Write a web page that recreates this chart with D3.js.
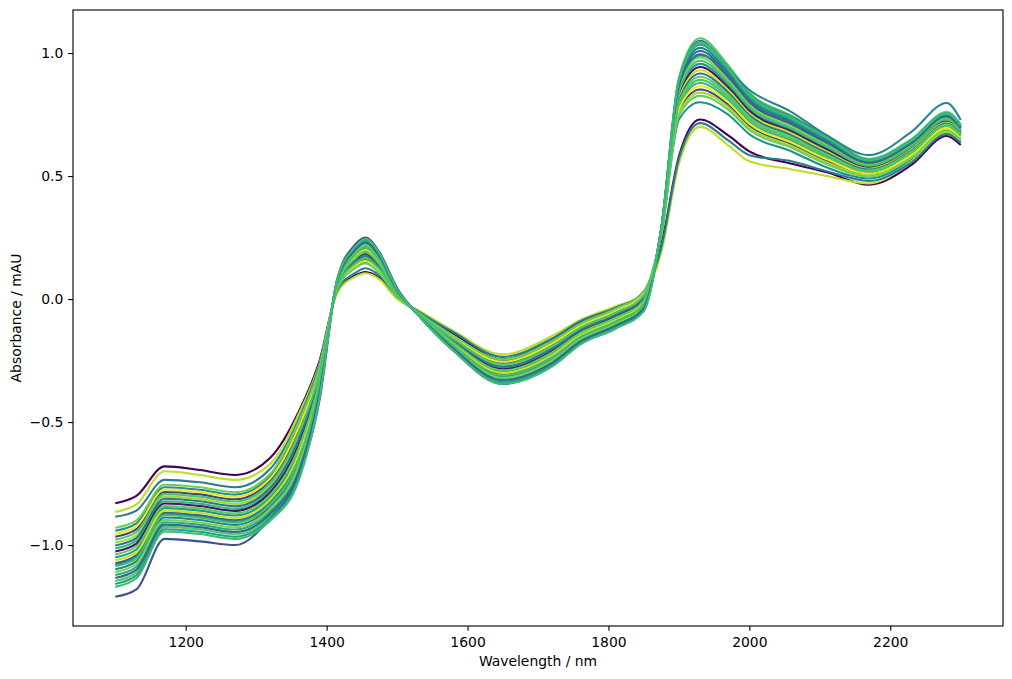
<!DOCTYPE html>
<html>
<head>
<meta charset="utf-8">
<script src="https://cdn.jsdelivr.net/npm/d3@7"></script>
<style>
  body { margin: 0; background: #fff; }
  text { font-family: "DejaVu Sans", sans-serif; fill: #000; }
</style>
</head>
<body>
<div id="graphic"></div>
<script>
var width = 1012;
var height = 679;
var margin = {left: 73, right: 9, top: 10, bottom: 53};
var fontSize = 13.9;
var tickLength = 4.86;
var tickPad = 4.86;

var wavelengths = [1100, 1130, 1170, 1220, 1270, 1320, 1360, 1390, 1415, 1440,
  1455, 1475, 1500, 1530, 1580, 1650, 1720, 1760, 1810, 1850,
  1875, 1900, 1930, 1970, 2000, 2060, 2110, 2170, 2230, 2280, 2300];

// colour value of each sample (viridis 0..1), same order as spectra
var sampleColors = [0.0, 0.66, 0.50, 0.45, 0.90, 0.20, 0.55, 0.74, 0.86, 0.25, 0.05, 0.30, 0.42,
  0.62, 0.98, 0.58, 0.47, 0.92, 0.40, 0.80, 0.78, 0.75, 0.70, 0.35, 0.72, 0.68];

var spectra = [
  [-0.830,-0.800,-0.680,-0.695,-0.715,-0.645,-0.460,-0.250,0.030,0.095,0.110,0.085,0.005,-0.050,-0.140,-0.245,-0.165,-0.095,-0.040,0.030,0.220,0.580,0.730,0.665,0.600,0.550,0.515,0.465,0.545,0.663,0.626],
  [-1.014,-0.982,-0.822,-0.832,-0.852,-0.777,-0.584,-0.319,0.054,0.155,0.180,0.133,0.021,-0.059,-0.171,-0.280,-0.207,-0.130,-0.068,0.002,0.269,0.781,0.878,0.810,0.721,0.644,0.574,0.514,0.591,0.701,0.661],
  [-0.942,-0.912,-0.765,-0.775,-0.795,-0.720,-0.512,-0.278,0.042,0.129,0.150,0.109,0.012,-0.056,-0.153,-0.250,-0.175,-0.104,-0.044,0.026,0.260,0.730,0.800,0.750,0.670,0.600,0.535,0.490,0.565,0.675,0.640],
  [-1.098,-1.065,-0.888,-0.898,-0.918,-0.843,-0.668,-0.363,0.068,0.185,0.215,0.161,0.031,-0.062,-0.192,-0.315,-0.244,-0.160,-0.096,-0.026,0.286,0.875,1.021,0.920,0.815,0.723,0.646,0.558,0.637,0.747,0.700],
  [-0.865,-0.835,-0.700,-0.715,-0.735,-0.670,-0.470,-0.260,0.025,0.090,0.105,0.080,0.000,-0.045,-0.130,-0.225,-0.150,-0.085,-0.030,0.020,0.190,0.550,0.700,0.625,0.560,0.527,0.500,0.470,0.560,0.680,0.645],
  [-0.966,-0.935,-0.784,-0.794,-0.814,-0.739,-0.536,-0.294,0.046,0.138,0.160,0.117,0.015,-0.057,-0.159,-0.260,-0.186,-0.113,-0.052,0.018,0.266,0.764,0.852,0.790,0.704,0.629,0.561,0.506,0.582,0.692,0.654],
  [-1.050,-1.018,-0.850,-0.860,-0.880,-0.805,-0.620,-0.338,0.060,0.168,0.195,0.145,0.025,-0.060,-0.180,-0.295,-0.223,-0.143,-0.080,-0.010,0.278,0.832,0.956,0.870,0.772,0.687,0.613,0.538,0.616,0.726,0.682],
  [-1.146,-1.112,-0.926,-0.936,-0.956,-0.881,-0.716,-0.388,0.076,0.202,0.235,0.177,0.037,-0.064,-0.204,-0.335,-0.265,-0.177,-0.112,-0.042,0.290,0.900,1.060,0.950,0.840,0.745,0.665,0.570,0.650,0.760,0.710],
  [-0.990,-0.959,-0.803,-0.813,-0.833,-0.758,-0.560,-0.306,0.050,0.146,0.170,0.125,0.018,-0.058,-0.165,-0.270,-0.196,-0.121,-0.060,0.010,0.265,0.756,0.839,0.780,0.696,0.622,0.555,0.502,0.578,0.688,0.651],
  [-1.210,-1.180,-0.975,-0.985,-1.000,-0.890,-0.720,-0.410,0.080,0.220,0.250,0.190,0.045,-0.065,-0.210,-0.345,-0.270,-0.180,-0.120,-0.040,0.290,0.880,1.050,0.930,0.830,0.740,0.660,0.565,0.640,0.740,0.700],
  [-1.026,-0.994,-0.831,-0.841,-0.861,-0.786,-0.596,-0.325,0.056,0.159,0.185,0.137,0.022,-0.059,-0.174,-0.285,-0.212,-0.134,-0.072,-0.002,0.277,0.824,0.943,0.860,0.764,0.680,0.607,0.534,0.612,0.722,0.679],
  [-1.074,-1.041,-0.869,-0.879,-0.899,-0.824,-0.644,-0.350,0.064,0.176,0.205,0.153,0.028,-0.061,-0.186,-0.305,-0.233,-0.151,-0.088,-0.018,0.283,0.858,0.995,0.900,0.798,0.709,0.633,0.550,0.629,0.739,0.693],
  [-0.885,-0.860,-0.735,-0.745,-0.765,-0.690,-0.490,-0.265,0.035,0.105,0.125,0.095,0.010,-0.050,-0.135,-0.235,-0.160,-0.090,-0.035,0.025,0.210,0.570,0.715,0.645,0.585,0.560,0.520,0.480,0.555,0.670,0.635],
  [-1.122,-1.088,-0.907,-0.917,-0.937,-0.862,-0.692,-0.375,0.072,0.193,0.225,0.169,0.034,-0.063,-0.198,-0.325,-0.254,-0.168,-0.104,-0.034,0.289,0.892,1.047,0.940,0.832,0.738,0.659,0.566,0.646,0.756,0.707],
  [-0.954,-0.924,-0.774,-0.784,-0.804,-0.729,-0.524,-0.288,0.044,0.134,0.155,0.113,0.013,-0.056,-0.156,-0.255,-0.181,-0.109,-0.048,0.022,0.268,0.773,0.865,0.800,0.713,0.636,0.568,0.510,0.586,0.696,0.658],
  [-1.158,-1.123,-0.936,-0.946,-0.966,-0.891,-0.728,-0.394,0.078,0.206,0.240,0.181,0.039,-0.065,-0.207,-0.340,-0.270,-0.181,-0.116,-0.046,0.287,0.883,1.034,0.930,0.823,0.731,0.652,0.562,0.642,0.752,0.703],
  [-1.080,-1.047,-0.873,-0.884,-0.903,-0.829,-0.650,-0.353,0.065,0.178,0.207,0.155,0.029,-0.061,-0.187,-0.307,-0.235,-0.153,-0.090,-0.020,0.280,0.850,0.990,0.930,0.850,0.760,0.665,0.585,0.680,0.797,0.728],
  [-1.062,-1.029,-0.860,-0.870,-0.890,-0.815,-0.632,-0.344,0.062,0.172,0.200,0.149,0.027,-0.061,-0.183,-0.300,-0.228,-0.147,-0.084,-0.014,0.275,0.815,0.930,0.850,0.755,0.673,0.600,0.530,0.608,0.718,0.675],
  [-1.002,-0.971,-0.812,-0.822,-0.842,-0.767,-0.572,-0.313,0.052,0.151,0.175,0.129,0.019,-0.058,-0.168,-0.275,-0.202,-0.126,-0.064,0.006,0.274,0.807,0.917,0.840,0.747,0.665,0.594,0.526,0.603,0.713,0.672],
  [-1.110,-1.076,-0.898,-0.908,-0.928,-0.853,-0.680,-0.369,0.070,0.189,0.220,0.165,0.033,-0.063,-0.195,-0.320,-0.249,-0.164,-0.100,-0.030,0.281,0.849,0.982,0.890,0.789,0.702,0.626,0.546,0.625,0.735,0.689],
  [-0.930,-0.900,-0.755,-0.765,-0.785,-0.710,-0.500,-0.275,0.040,0.125,0.145,0.105,0.010,-0.055,-0.150,-0.245,-0.170,-0.100,-0.040,0.030,0.263,0.747,0.826,0.770,0.687,0.615,0.548,0.498,0.574,0.684,0.647],
  [-1.038,-1.006,-0.841,-0.851,-0.871,-0.796,-0.608,-0.331,0.058,0.163,0.190,0.141,0.024,-0.060,-0.177,-0.290,-0.217,-0.138,-0.076,-0.006,0.272,0.798,0.904,0.830,0.738,0.658,0.587,0.522,0.599,0.709,0.668],
  [-1.086,-1.053,-0.879,-0.889,-0.909,-0.834,-0.656,-0.356,0.066,0.180,0.210,0.157,0.030,-0.062,-0.189,-0.310,-0.238,-0.155,-0.092,-0.022,0.280,0.841,0.969,0.880,0.781,0.694,0.620,0.542,0.620,0.730,0.686],
  [-1.134,-1.100,-0.917,-0.927,-0.947,-0.872,-0.704,-0.381,0.074,0.197,0.230,0.173,0.036,-0.064,-0.201,-0.330,-0.259,-0.172,-0.108,-0.038,0.284,0.866,1.008,0.910,0.806,0.716,0.639,0.554,0.633,0.743,0.696],
  [-0.978,-0.947,-0.793,-0.803,-0.823,-0.748,-0.548,-0.300,0.048,0.142,0.165,0.121,0.016,-0.057,-0.162,-0.265,-0.191,-0.117,-0.056,0.014,0.271,0.790,0.891,0.820,0.730,0.651,0.581,0.518,0.595,0.705,0.665],
  [-1.170,-1.135,-0.945,-0.955,-0.975,-0.900,-0.740,-0.400,0.080,0.210,0.245,0.185,0.040,-0.065,-0.210,-0.345,-0.275,-0.185,-0.120,-0.050,0.288,0.888,1.040,0.935,0.828,0.735,0.656,0.564,0.644,0.754,0.705]
];

var xTicks = [1200, 1400, 1600, 1800, 2000, 2200];
var yTicks = [-1.0, -0.5, 0.0, 0.5, 1.0];
var xLabel = "Wavelength / nm";
var yLabel = "Absorbance / mAU";

var svg = d3.select("#graphic")
  .append("svg")
  .attr("width", width)
  .attr("height", height);

var xScale = d3.scaleLinear()
  .domain([1040, 2360])
  .range([margin.left, width - margin.right]);

var yScale = d3.scaleLinear()
  .domain([-1.329, 1.175])
  .range([height - margin.bottom, margin.top]);

var line = d3.line()
  .x(function(d, i) { return xScale(wavelengths[i]); })
  .y(function(d) { return yScale(d); })
  .curve(d3.curveMonotoneX);

function renderLines() {
  svg.append("g")
    .selectAll("path")
    .data(spectra)
    .join("path")
    .attr("fill", "none")
    .attr("stroke", function(d, i) { return d3.interpolateViridis(sampleColors[i]); })
    .attr("stroke-width", 2.08)
    .attr("stroke-linejoin", "round")
    .attr("d", line);
}

function renderAxis() {
  var xAxis = svg.append("g")
    .attr("transform", "translate(0," + (height - margin.bottom) + ")")
    .call(d3.axisBottom(xScale)
      .tickValues(xTicks)
      .tickFormat(d3.format("d"))
      .tickSizeInner(tickLength)
      .tickSizeOuter(0)
      .tickPadding(tickPad));
  xAxis.select(".domain").remove();
  xAxis.selectAll("line").attr("stroke", "#000").attr("stroke-width", 1.11);
  xAxis.selectAll("text")
    .attr("font-size", fontSize)
    .attr("font-family", "DejaVu Sans")
    .attr("dy", "0.78em");

  var yAxis = svg.append("g")
    .attr("transform", "translate(" + margin.left + ",0)")
    .call(d3.axisLeft(yScale)
      .tickValues(yTicks)
      .tickFormat(d3.format(".1f"))
      .tickSizeInner(tickLength)
      .tickSizeOuter(0)
      .tickPadding(tickPad));
  yAxis.select(".domain").remove();
  yAxis.selectAll("line").attr("stroke", "#000").attr("stroke-width", 1.11);
  yAxis.selectAll("text")
    .attr("font-size", fontSize)
    .attr("font-family", "DejaVu Sans")
    .attr("dy", "0.34em");

  // frame
  svg.append("rect")
    .attr("x", margin.left)
    .attr("y", margin.top)
    .attr("width", width - margin.left - margin.right)
    .attr("height", height - margin.top - margin.bottom)
    .attr("fill", "none")
    .attr("stroke", "#000")
    .attr("stroke-width", 1.11);

  svg.append("text")
    .attr("x", (margin.left + width - margin.right) / 2)
    .attr("y", 665.6)
    .attr("text-anchor", "middle")
    .attr("font-size", fontSize)
    .text(xLabel);

  svg.append("text")
    .attr("transform", "translate(20.7," + ((margin.top + height - margin.bottom) / 2) + ") rotate(-90)")
    .attr("text-anchor", "middle")
    .attr("font-size", fontSize)
    .text(yLabel);
}

renderLines();
renderAxis();
</script>
</body>
</html>
